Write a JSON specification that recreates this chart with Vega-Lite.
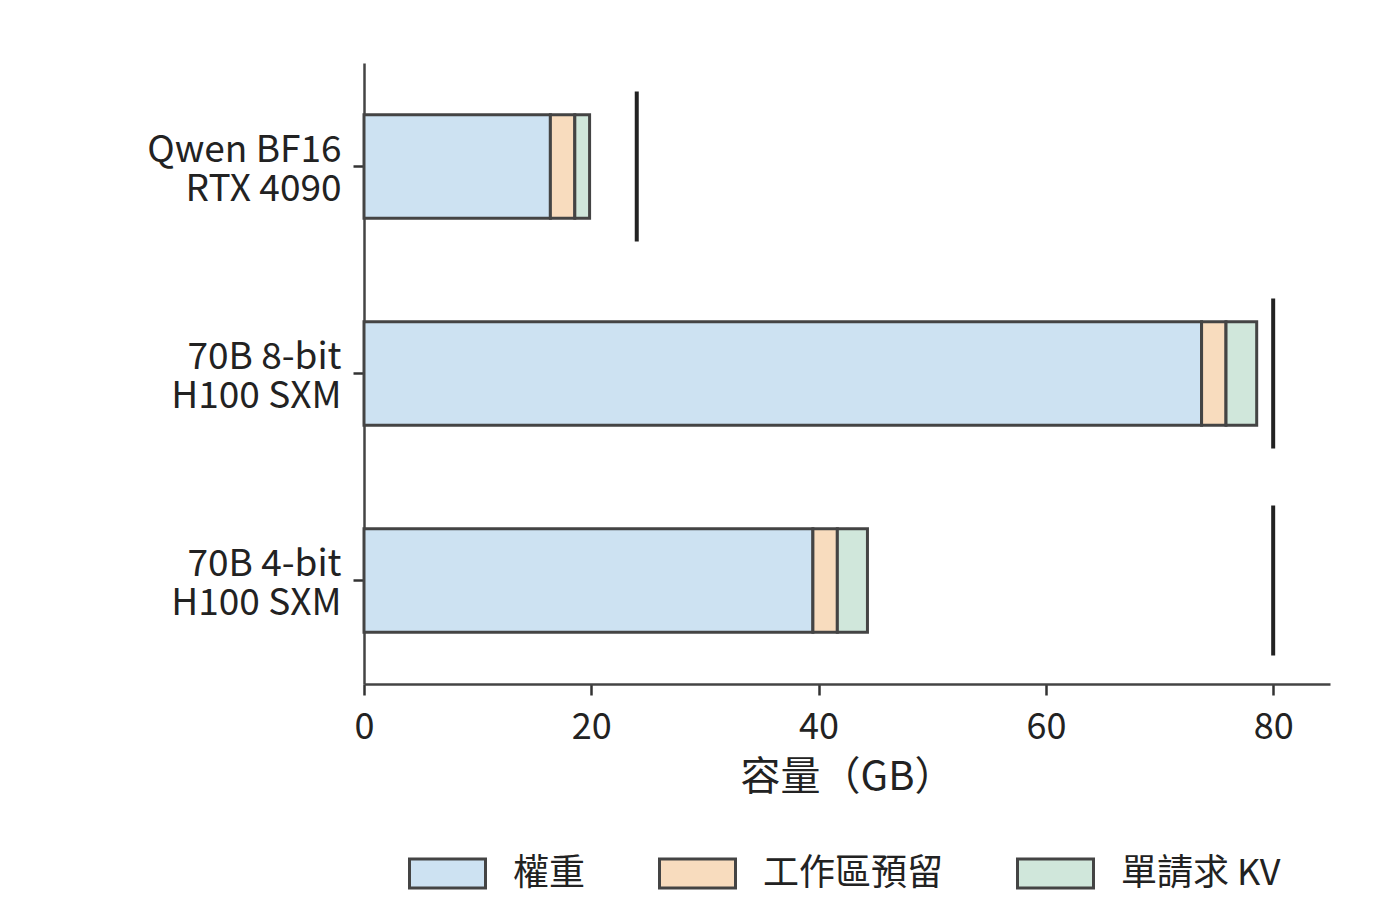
{
  "$schema": "https://vega.github.io/schema/vega-lite/v6.json",
  "width": 966,
  "height": 621,
  "autosize": {"type": "none"},
  "padding": {"left": 364, "top": 63, "right": 70, "bottom": 228},
  "background": "white",
  "config": {
    "font": "Noto Sans CJK TC",
    "view": {"stroke": null}
  },
  "datasets": {
    "parts": [
      {"setup": "Qwen BF16\nRTX 4090", "part": "權重", "gb": 16.4},
      {"setup": "Qwen BF16\nRTX 4090", "part": "工作區預留", "gb": 2.15},
      {"setup": "Qwen BF16\nRTX 4090", "part": "單請求 KV", "gb": 1.3},
      {"setup": "70B 8-bit\nH100 SXM", "part": "權重", "gb": 73.7},
      {"setup": "70B 8-bit\nH100 SXM", "part": "工作區預留", "gb": 2.15},
      {"setup": "70B 8-bit\nH100 SXM", "part": "單請求 KV", "gb": 2.7},
      {"setup": "70B 4-bit\nH100 SXM", "part": "權重", "gb": 39.5},
      {"setup": "70B 4-bit\nH100 SXM", "part": "工作區預留", "gb": 2.15},
      {"setup": "70B 4-bit\nH100 SXM", "part": "單請求 KV", "gb": 2.65}
    ],
    "caps": [
      {"setup": "Qwen BF16\nRTX 4090", "cap": 24},
      {"setup": "70B 8-bit\nH100 SXM", "cap": 80},
      {"setup": "70B 4-bit\nH100 SXM", "cap": 80}
    ]
  },
  "layer": [
    {
      "data": {"name": "parts"},
      "transform": [
        {"calculate": "indexof(['權重', '工作區預留', '單請求 KV'], datum.part)", "as": "k"}
      ],
      "mark": {"type": "bar", "stroke": "#444", "strokeWidth": 3, "height": {"band": 0.5}},
      "encoding": {
        "y": {
          "field": "setup",
          "type": "nominal",
          "sort": null,
          "scale": {"paddingInner": 0, "paddingOuter": 0},
          "axis": {
            "title": null,
            "labelExpr": "split(datum.value, '\\n')",
            "labelFontSize": 37,
            "labelLineHeight": 39,
            "labelColor": "#222",
            "labelPadding": 12,
            "labelOffset": -16,
            "labelLimit": 0,
            "labelOverlap": false,
            "domainColor": "#444",
            "domainWidth": 2.5,
            "tickColor": "#333",
            "tickWidth": 2.5,
            "tickSize": 11
          }
        },
        "x": {
          "field": "gb",
          "type": "quantitative",
          "stack": "zero",
          "scale": {"domain": [0, 85], "nice": false},
          "axis": {
            "title": "容量（GB）",
            "values": [0, 20, 40, 60, 80],
            "grid": false,
            "labelFontSize": 36,
            "labelColor": "#222",
            "labelPadding": 15,
            "labelFlush": false,
            "titleFontSize": 40,
            "titleFontWeight": "normal",
            "titleColor": "#222",
            "titlePadding": 12,
            "domainColor": "#444",
            "domainWidth": 2.5,
            "tickColor": "#333",
            "tickWidth": 2.5,
            "tickSize": 11
          }
        },
        "color": {
          "field": "part",
          "type": "nominal",
          "scale": {
            "domain": ["權重", "工作區預留", "單請求 KV"],
            "range": ["#cde2f2", "#f8dcbe", "#d0e7db"]
          },
          "legend": {
            "orient": "none",
            "legendX": 44,
            "legendY": 771,
            "direction": "horizontal",
            "title": null,
            "padding": 0,
            "symbolType": "M-1,-0.38H1V0.38H-1Z",
            "symbolSize": 5776,
            "symbolStrokeColor": "#444",
            "symbolStrokeWidth": 3,
            "symbolOpacity": 1,
            "labelFontSize": 36,
            "labelColor": "#222",
            "labelOffset": 26,
            "labelLimit": 0,
            "columnPadding": 67
          }
        },
        "order": {"field": "k", "type": "quantitative"}
      }
    },
    {
      "data": {"name": "caps"},
      "mark": {"type": "tick", "orient": "vertical", "size": 150, "thickness": 4, "color": "#222", "opacity": 1},
      "encoding": {
        "y": {"field": "setup", "type": "nominal", "sort": null},
        "x": {"field": "cap", "type": "quantitative"}
      }
    }
  ]
}
